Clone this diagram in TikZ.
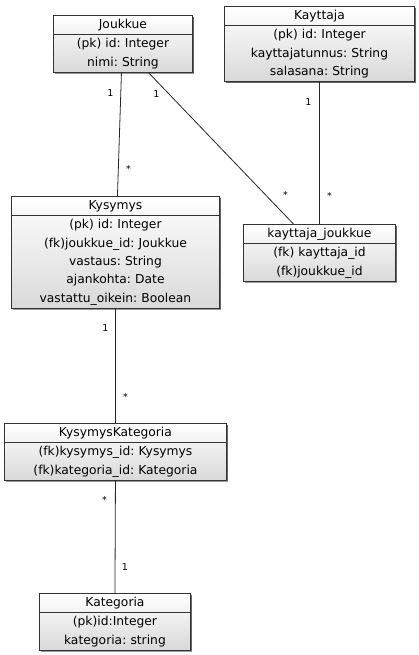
\documentclass[tikz,border=0pt]{standalone}
\usepackage{fontspec}
\setmainfont{DejaVu Sans}
\usetikzlibrary{shapes.multipart}
\usetikzlibrary{shadows}
\frenchspacing
\newcommand{\rows}[1]{\strut#1\strut}

\begin{document}
\begin{tikzpicture}[x=1pt,y=-1pt,
			entity/.style={rectangle split,rectangle split parts=2,
				draw=black!80,line width=0.9pt,top color=white,bottom color=black!15,
				drop shadow={shadow xshift=1.5pt,shadow yshift=-1.5pt,opacity=1,fill=black!60},
				inner xsep=0pt,inner ysep=0pt,align=center,anchor=north west,
				font=\fontsize{12.3}{18.3}\selectfont},
			mult/.style={font=\fontsize{9.5}{9.5}\selectfont,inner sep=0pt},
			every edge/.style={draw=black!85,line width=0.8pt}]
			
			\useasboundingbox (0,0) rectangle (419,655);
			
			\node[entity,text width=139pt] (joukkue) at (53,15)
			{\rows{Joukkue}\nodepart{two}\rows{(pk) id: Integer\\nimi: String}};
			\node[entity,text width=190pt] (kayttaja) at (224,6)
			{\rows{Kayttaja}\nodepart{two}\rows{(pk) id: Integer\\kayttajatunnus: String\\salasana: String}};
			\node[entity,text width=208pt] (kysymys) at (11,196)
			{\rows{Kysymys}\nodepart{two}\rows{(pk) id: Integer\\(fk)joukkue\_id: Joukkue\\vastaus: String\\ajankohta: Date\\vastattu\_oikein: Boolean}};
			\node[entity,text width=152pt] (kayttajajoukkue) at (243,224)
			{\rows{kayttaja\_joukkue}\nodepart{two}\rows{(fk) kayttaja\_id\\(fk)joukkue\_id}};
			\node[entity,text width=222pt] (kysymyskategoria) at (4,423)
			{\rows{KysymysKategoria}\nodepart{two}\rows{(fk)kysymys\_id: Kysymys\\(fk)kategoria\_id: Kategoria}};
			\node[entity,text width=151pt] (kategoria) at (39,593)
			{\rows{Kategoria}\nodepart{two}\rows{(pk)id:Integer\\kategoria: string}};
			
			\path
			([xshift=-1.5pt]joukkue.south) edge
				node[mult,pos=0,xshift=-11pt,yshift=-20pt] {1}
				node[mult,pos=1,xshift=11pt,yshift=27pt] {*} ([xshift=2pt]kysymys.north)
			([xshift=25.5pt]joukkue.south) edge
				node[mult,pos=0,xshift=8pt,yshift=-21pt] {1}
				node[mult,pos=1,xshift=-8pt,yshift=29pt] {*} ([xshift=-26pt]kayttajajoukkue.north)
			(kayttaja.south) edge
				node[mult,pos=0,xshift=-11pt,yshift=-20pt] {1}
				node[mult,pos=1,xshift=10pt,yshift=28pt] {*} (kayttajajoukkue.north)
			(kysymys.south) edge
				node[mult,pos=0,xshift=-10pt,yshift=-20pt] {1}
				node[mult,pos=1,xshift=10pt,yshift=26pt] {*} (kysymyskategoria.north)
			(kysymyskategoria.south) edge
				node[mult,pos=0,xshift=-11pt,yshift=-19pt] {*}
				node[mult,pos=1,xshift=10pt,yshift=26pt] {1} (kategoria.north);
		\end{tikzpicture}
\end{document}
